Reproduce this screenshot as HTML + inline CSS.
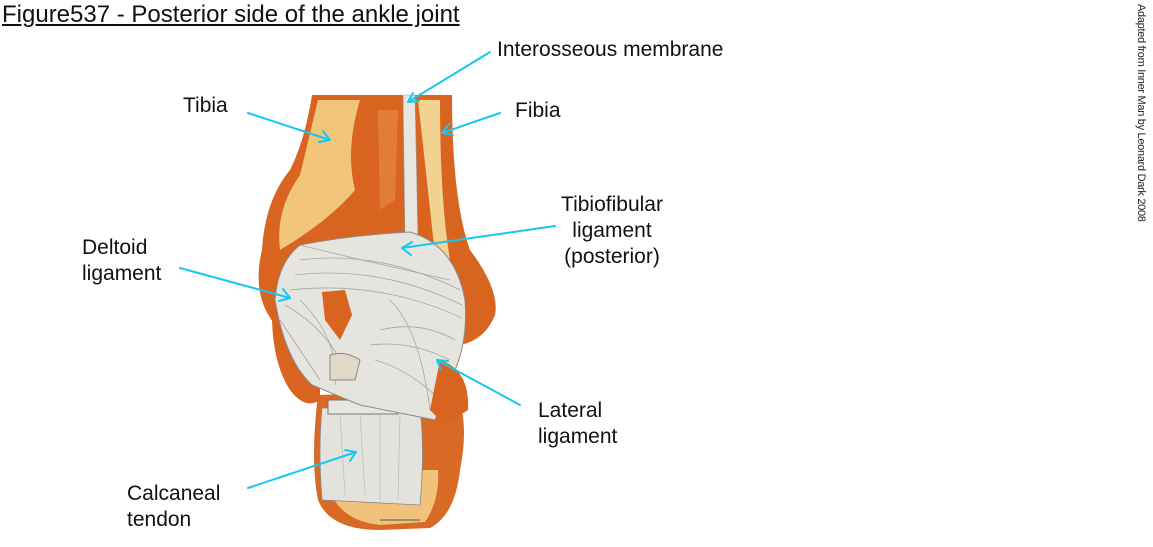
<!DOCTYPE html>
<html><head><meta charset="utf-8"><style>
html,body{margin:0;padding:0;background:#fff;}
body{width:1153px;height:547px;overflow:hidden;position:relative;font-family:"Liberation Sans",Arial,sans-serif;}
.t{position:absolute;font-size:21px;color:#111;line-height:26px;white-space:nowrap}
</style></head><body>
<div class="t" style="left:2px;top:2px;font-size:24px;text-decoration:underline;">Figure537 - Posterior side of the ankle joint</div>
<div style="position:absolute;left:1133px;top:4px;width:14px;height:215px;">
<div style="position:absolute;left:14px;top:0;transform-origin:0 0;transform:rotate(90deg);font-size:11px;white-space:nowrap;color:#222;width:215px;letter-spacing:-0.3px">Adapted from Inner Man by Leonard Dark 2008</div></div>
<div class="t" style="left:497px;top:37px">Interosseous membrane</div>
<div class="t" style="left:183px;top:93px">Tibia</div>
<div class="t" style="left:515px;top:98px">Fibia</div>
<div class="t" style="left:552px;top:192px;text-align:center;width:120px">Tibiofibular<br>ligament<br>(posterior)</div>
<div class="t" style="left:82px;top:235px">Deltoid<br>ligament</div>
<div class="t" style="left:538px;top:398px">Lateral<br>ligament</div>
<div class="t" style="left:127px;top:481px">Calcaneal<br>tendon</div>
<svg width="1153" height="547" style="position:absolute;left:0;top:0">
<!-- calcaneus -->
<path d="M318 395 Q310 460 318 500 Q330 530 380 530 L430 528 Q455 515 460 470 Q470 420 455 390 Z" fill="#d86a26"/>
<path d="M325 470 Q330 520 380 525 L425 522 Q440 500 438 470 Z" fill="#f0c27a"/>
<path d="M322 408 Q318 450 322 500 L420 505 Q425 450 420 408 Z" fill="#e4e2dc" stroke="#888" stroke-width="0.8"/>
<rect x="328" y="400" width="70" height="14" fill="#e8e6e0" stroke="#777"/>
<!-- tibia -->
<path d="M312 95 L405 95 L410 250 L460 300 L420 330 L280 330 Q250 300 262 250 Q265 200 290 170 Q305 140 312 95 Z" fill="#d8641f"/>
<path d="M318 100 L360 100 Q345 150 355 190 Q330 220 280 250 Q275 210 300 175 Z" fill="#f1c57a"/>
<path d="M378 110 L398 110 L395 200 L380 210 Z" fill="#e27d35"/>
<!-- fibula -->
<path d="M412 95 L452 95 Q452 200 470 250 Q500 290 495 315 Q485 340 460 345 L420 330 L410 250 Z" fill="#d8641f"/>
<path d="M418 100 L440 100 Q440 200 450 260 Q470 300 460 320 L440 300 Z" fill="#f1d290"/>
<path d="M403 95 L415 95 L418 240 L405 240 Z" fill="#e8e6e0" stroke="#999" stroke-width="0.6"/>
<!-- lower-left bone -->
<path d="M272 300 Q270 360 290 390 Q305 410 320 400 L320 360 Z" fill="#d8641f"/>
<!-- ligament mass -->
<path d="M300 245 Q350 235 410 232 Q455 245 465 300 Q468 340 455 370 L435 420 L360 405 L312 385 Q285 360 275 300 Q278 262 300 245 Z" fill="#e6e4de" stroke="#8a8a86" stroke-width="1"/>
<g stroke="#a8a6a0" stroke-width="0.8" fill="none">
<path d="M300 260 Q380 250 460 290"/><path d="M295 275 Q380 265 462 305"/><path d="M290 290 Q380 280 462 318"/>
<path d="M300 245 Q360 260 450 280"/><path d="M285 305 Q330 330 350 380"/><path d="M300 300 Q340 340 335 385"/>
<path d="M380 330 Q420 320 455 340"/><path d="M370 345 Q410 340 450 360"/><path d="M375 360 Q410 370 440 400"/>
<path d="M280 320 Q300 350 320 380"/><path d="M390 300 Q420 330 430 410"/>
</g>
<g stroke="#bbb" stroke-width="0.7"><path d="M340 415 L345 495"/><path d="M360 415 L365 495"/><path d="M380 415 L380 500"/><path d="M400 415 L398 500"/></g>
<path d="M322 292 L345 290 L352 315 L340 340 L325 320 Z" fill="#d8641f"/>
<path d="M330 355 Q345 350 360 360 L355 380 L330 380 Z" fill="#e0d8c8" stroke="#888"/>
<path d="M440 360 Q470 370 468 410 L445 425 L430 410 Z" fill="#d8641f"/>
<path d="M380 520 L420 520" stroke="#555" stroke-width="1"/>
<g stroke="#18c6f2" stroke-width="2" fill="none" stroke-linecap="round">
<path d="M490 52 L408 102"/><path d="M408 102 l11 -1 M408 102 l5 -9"/>
<path d="M248 113 L330 140"/><path d="M330 140 l-7 -9 M330 140 l-11 2"/>
<path d="M500 113 L442 133"/><path d="M442 133 l7 -9 M442 133 l11 2"/>
<path d="M555 226 L402 248"/><path d="M402 248 l10 -6 M402 248 l9 7"/>
<path d="M180 268 L290 298"/><path d="M290 298 l-7 -9 M290 298 l-11 3"/>
<path d="M520 405 L437 360"/><path d="M437 360 l11 1 M437 360 l4 10"/>
<path d="M248 488 L356 452"/><path d="M356 452 l-11 -2 M356 452 l-6 9"/>
</g>
</svg>
</body></html>
